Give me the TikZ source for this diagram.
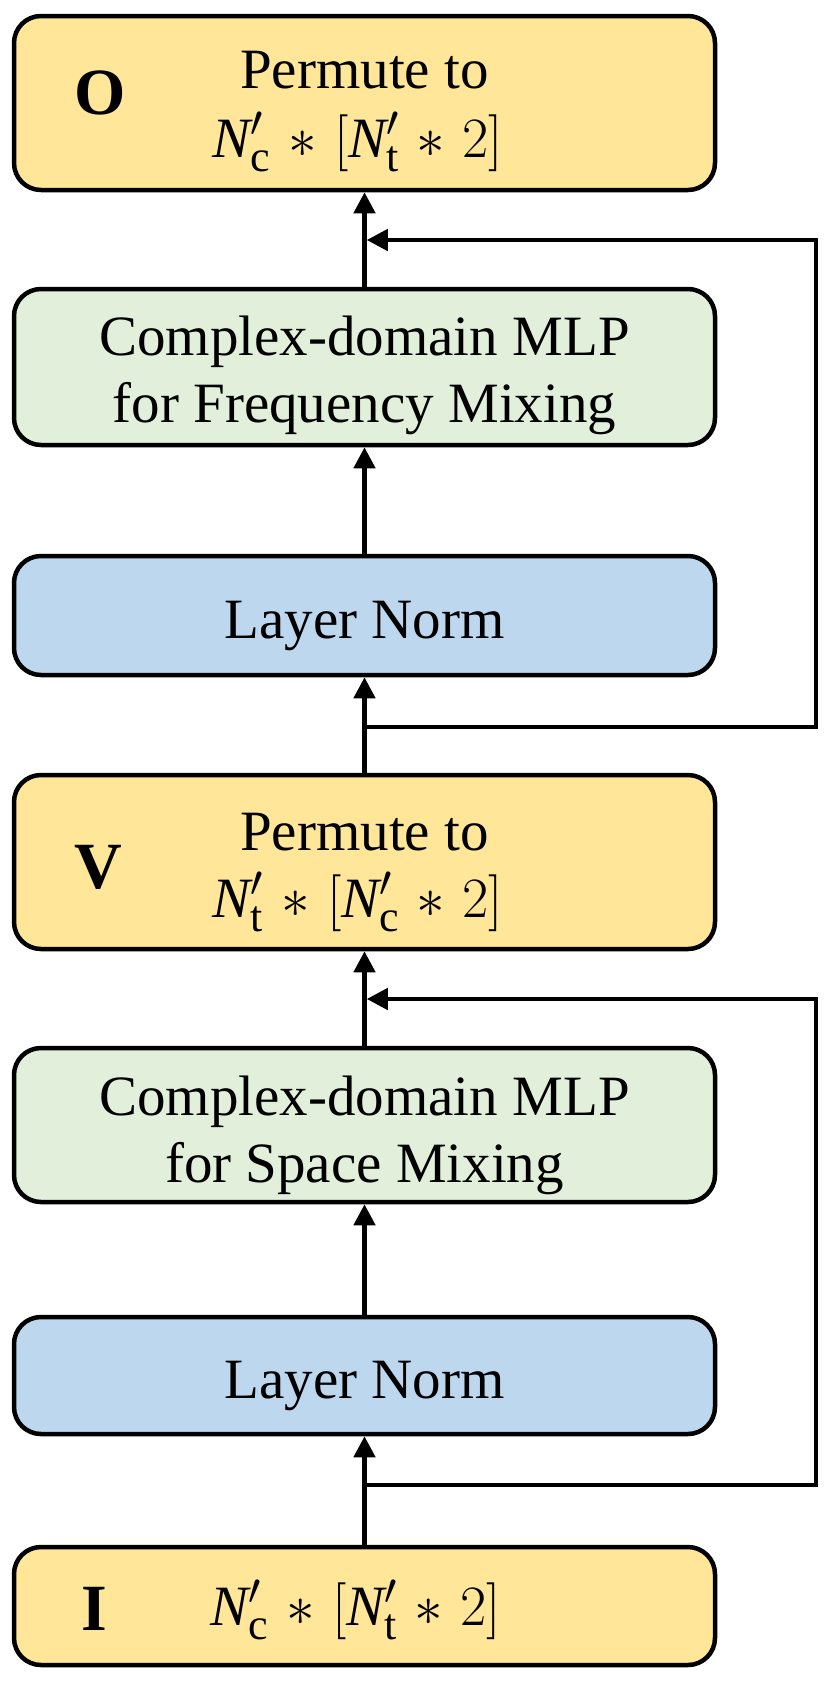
\documentclass[tikz,border=0pt]{standalone}
\usepackage{fix-cm}
\usepackage{fontspec}
\setmainfont{Liberation Serif}
\usetikzlibrary{arrows.meta}
\DeclareMathSizes{57}{57}{44}{34}
\definecolor{boxyellow}{HTML}{FFE699}
\definecolor{boxgreen}{HTML}{E2EFDA}
\definecolor{boxblue}{HTML}{BDD7EE}
\newcommand{\tms}{\mskip1.5mu\ast\mskip1.5mu}
\begin{document}
\begin{tikzpicture}[x=1pt,y=-1pt,
  blk/.style={draw=black, line width=4.5pt, rounded corners=27pt, minimum width=701pt, inner sep=0pt},
  ybox/.style={blk, fill=boxyellow},
  gbox/.style={blk, fill=boxgreen},
  bbox/.style={blk, fill=boxblue},
  txt/.style={anchor=base, inner sep=0pt, font=\fontsize{57}{67}\selectfont},
  lbl/.style={anchor=base, inner sep=0pt, font=\fontsize{66}{66}\selectfont\bfseries},
  conn/.style={line width=4.5pt, -{Triangle[length=21pt,width=21pt]}}
]
\useasboundingbox (0,0) rectangle (830,1682);
% boxes
\node[ybox, minimum height=174pt] (O)  at (364.5,103)    {};
\node[gbox, minimum height=156pt] (G1) at (364.5,367)    {};
\node[bbox, minimum height=119pt] (B1) at (364.5,615.5)  {};
\node[ybox, minimum height=174pt] (V)  at (364.5,862)    {};
\node[gbox, minimum height=154pt] (G2) at (364.5,1125)   {};
\node[bbox, minimum height=117pt] (B2) at (364.5,1375.5) {};
\node[ybox, minimum height=118pt] (I)  at (364.5,1606)   {};
% texts
\node[txt] (Ot1) at (364.5,88)  {Permute to};
\node[txt] (Ot2) at (358,157)   {$\mathit{N}'_{\mathrm{c}} \tms [\mathit{N}'_{\mathrm{t}} \tms 2]$};
\node[lbl] (Ol)  at (100,114)   {O};
\node[txt] (G1t1) at (364.5,355) {Complex-domain MLP};
\node[txt] (G1t2) at (364.5,422) {for Frequency Mixing};
\node[txt] (B1t) at (364.5,638) {Layer Norm};
\node[txt] (Vt1) at (364.5,850) {Permute to};
\node[txt] (Vt2) at (358,917)   {$\mathit{N}'_{\mathrm{t}} \tms [\mathit{N}'_{\mathrm{c}} \tms 2]$};
\node[lbl] (Vl)  at (98,888)    {V};
\node[txt] (G2t1) at (364.5,1115) {Complex-domain MLP};
\node[txt] (G2t2) at (364.5,1182) {for Space Mixing};
\node[txt] (B2t) at (364.5,1398) {Layer Norm};
\node[txt] (It)  at (356,1625)  {$\mathit{N}'_{\mathrm{c}} \tms [\mathit{N}'_{\mathrm{t}} \tms 2]$};
\node[lbl] (Il)  at (94,1630)   {I};
% main flow
\draw[conn] (I.north)  -- (B2.south);
\draw[conn] (B2.north) -- (G2.south);
\draw[conn] (G2.north) -- (V.south);
\draw[conn] (V.north)  -- (B1.south);
\draw[conn] (B1.north) -- (G1.south);
\draw[conn] (G1.north) -- (O.south);
% residual loops
\coordinate (j2)  at (364.5,1485);
\coordinate (r2)  at (816,1485);
\coordinate (r2t) at (816,999);
\coordinate (a2)  at (366.75,999);
\draw[conn] (j2) -- (r2) -- (r2t) -- (a2);
\coordinate (j1)  at (364.5,727);
\coordinate (r1)  at (816,727);
\coordinate (r1t) at (816,240);
\coordinate (a1)  at (366.75,240);
\draw[conn] (j1) -- (r1) -- (r1t) -- (a1);
\end{tikzpicture}
\end{document}
